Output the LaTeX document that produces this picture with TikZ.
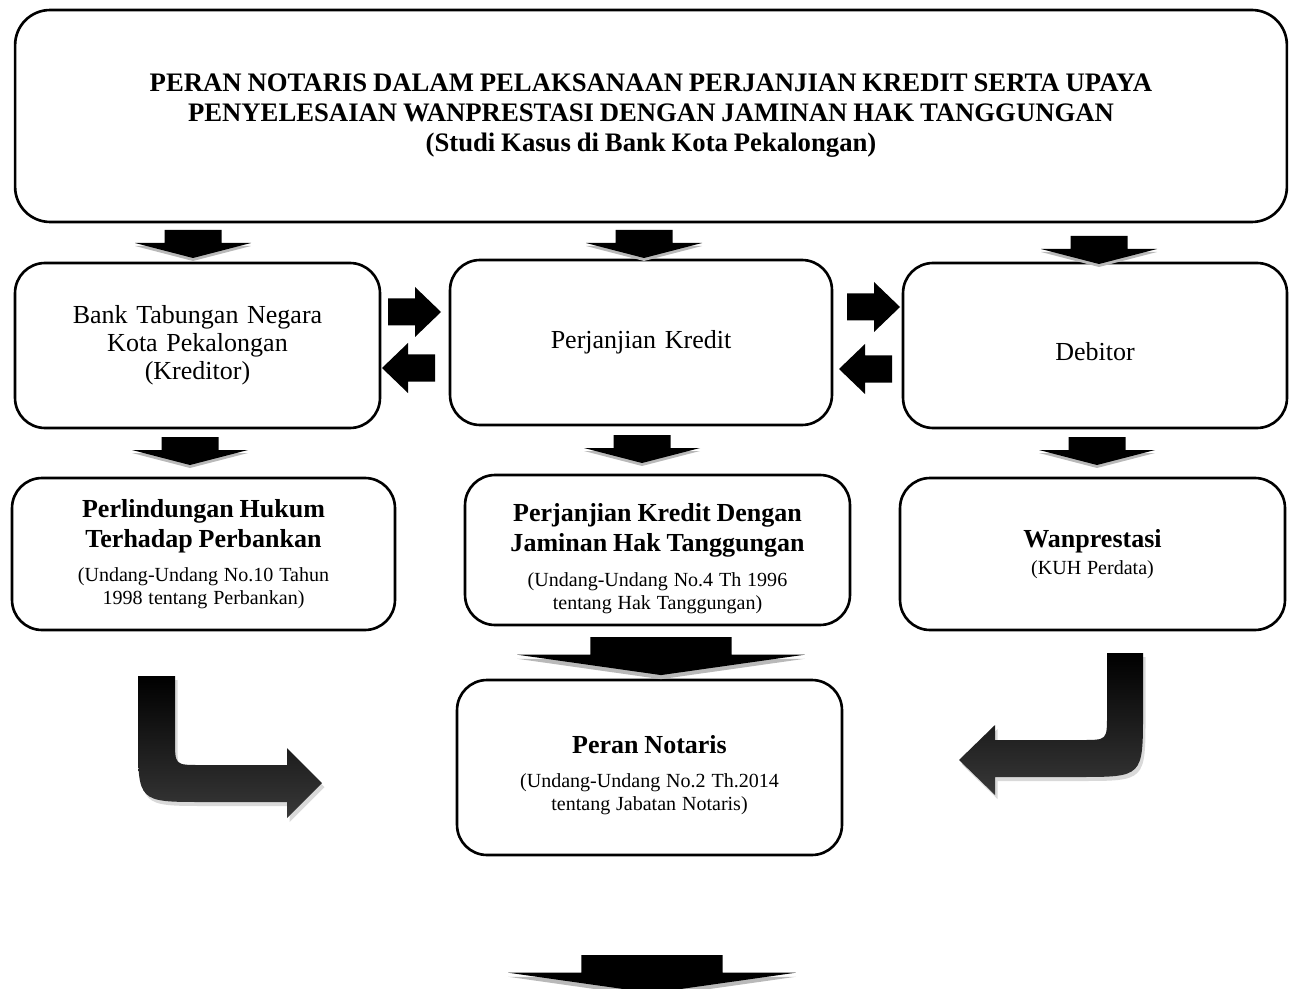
\documentclass[tikz,border=0pt]{standalone}
\usepackage{fontspec}
\setmainfont{Liberation Serif}
\usetikzlibrary{shadows}
\newcommand\headtext[1]{{\fontsize{14.8}{17.1}\selectfont\bfseries #1\par}}
\newcommand\lawtext[2][6pt]{{\vskip #1\fontsize{11.4}{13.1}\selectfont #2\par}}

\begin{document}
\begin{tikzpicture}[
    x=0.02cm, y=-0.02cm,
    box/.style={rectangle, rounded corners=0.6cm, draw, line width=1.5pt,
                align=center, inner sep=0pt},
    rowone/.style={font=\fontsize{14.8}{16}\selectfont},
    bent/.style={top color=black, bottom color=black!78,
                 drop shadow={opacity=0.3, shadow xshift=0.5mm, shadow yshift=-0.8mm}},
    downarr/.pic={
      \fill[gray!55] (-58,16) -- (58,16) -- (0,31) -- cycle;
      \fill (-28.5,0) -- (28.5,0) -- (28.5,13) -- (58,13) -- (0,28) -- (-58,13) -- (-28.5,13) -- cycle;
    },
    sidearr/.pic={
      \fill (0,-13.5) -- (27,-13.5) -- (27,-25) -- (53,0) -- (27,25) -- (27,13.5) -- (0,13.5) -- cycle;
    },
  ]
  \useasboundingbox (0,0) rectangle (1293,989);

  %% TITLE
  \node[box, rounded corners=0.7cm, minimum width=25.44cm, minimum height=4.24cm,
        text width=24cm] (judul) at (651,116)
    {{\fontsize{15.2}{17.1}\selectfont\bfseries
       PERAN NOTARIS DALAM PELAKSANAAN PERJANJIAN KREDIT SERTA UPAYA\\
       PENYELESAIAN WANPRESTASI DENGAN JAMINAN HAK TANGGUNGAN\\
       (Studi Kasus di Bank Kota Pekalongan)\par}};

  %% ROW 1 -- parties
  \node[box, rowone, minimum width=7.3cm, minimum height=3.3cm, text width=7cm]
    (bank) at (197.5,345.5) {Bank Tabungan Negara\\Kota Pekalongan\\(Kreditor)};
  \node[box, rowone, minimum width=7.64cm, minimum height=3.3cm, text width=7cm]
    (kredit) at (641,342.5) {Perjanjian Kredit};
  \node[box, rowone, minimum width=7.68cm, minimum height=3.3cm, text width=7cm]
    (debitor) at (1095,345.5) {\vskip 1pt Debitor};

  %% ROW 2 -- legal basis
  \node[box, minimum width=7.66cm, minimum height=3.04cm, text width=7cm]
    (hukum) at (203.5,554)
    {\headtext{Perlindungan Hukum\\Terhadap Perbankan}%
     \lawtext{(Undang-Undang No.10 Tahun\\1998 tentang Perbankan)}};
  \node[box, minimum width=7.7cm, minimum height=3.0cm, text width=7cm]
    (jaminan) at (657.5,550)
    {\vskip 3pt\headtext{Perjanjian Kredit Dengan\\Jaminan Hak Tanggungan}%
     \lawtext[7pt]{(Undang-Undang No.4 Th 1996\\tentang Hak Tanggungan)}};
  \node[box, minimum width=7.7cm, minimum height=3.04cm, text width=7cm]
    (wanpres) at (1092.5,554)
    {\headtext{Wanprestasi}\lawtext[2pt]{(KUH Perdata)}};

  %% ROW 3 -- notary
  \node[box, minimum width=7.7cm, minimum height=3.5cm, text width=7cm]
    (notaris) at (649.5,767.5)
    {\vskip 2pt\headtext{Peran Notaris}%
     \lawtext{(Undang-Undang No.2 Th.2014\\tentang Jabatan Notaris)}};

  %% block arrows down
  \pic at (193,230) {downarr};
  \pic at (644,230) {downarr};
  \pic at (1099,236) {downarr};
  \pic at (190,437) {downarr};
  \pic at (642,435) {downarr};
  \pic at (1097,437) {downarr};
  \pic[xscale=2.48, yscale=1.36] at (661,637) {downarr};
  \pic[xscale=2.48, yscale=1.36] at (652,955) {downarr};

  %% block arrows sideways
  \pic at (388,312) {sidearr};
  \pic[xscale=-1] at (435,368) {sidearr};
  \pic at (847,307) {sidearr};
  \pic[xscale=-1] at (892,369) {sidearr};

  %% bent arrows into Peran Notaris
  \shade[bent] (138,676) -- (175,676) -- (175,740) .. controls (175,765) .. (200,765)
    -- (287,765) -- (287,748) -- (322,783) -- (287,818) -- (287,802) -- (203,802)
    .. controls (138,802) .. (138,737) -- cycle;
  \shade[bent] (1107,653) -- (1143,653) -- (1143,712) .. controls (1143,777) .. (1078,777)
    -- (995,777) -- (995,795) -- (959,760) -- (995,725) -- (995,740) -- (1082,740)
    .. controls (1107,740) .. (1107,715) -- cycle;

\end{tikzpicture}
\end{document}
